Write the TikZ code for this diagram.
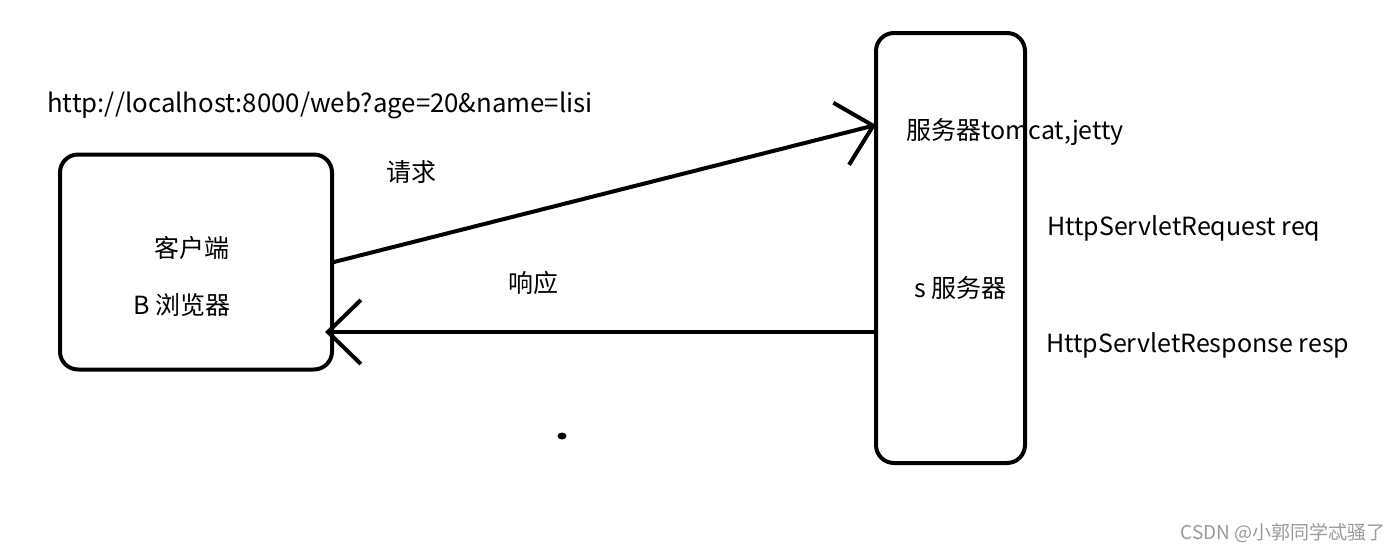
\documentclass[tikz,border=0pt]{standalone}
\usepackage{fontspec}
\setmainfont{Noto Sans CJK SC}
\usetikzlibrary{arrows.meta,positioning}
\definecolor{markgray}{HTML}{9A9A9A}
\begin{document}
\begin{tikzpicture}[x=1pt,y=-1pt,
  frame/.style={draw,line width=4pt,rounded corners=18pt,inner sep=0pt},
  lbl/.style={font=\fontsize{25}{30}\selectfont,inner sep=0pt},
  link/.style={line width=4pt,line cap=round,-{Straight Barb[length=33pt,width=64pt,line width=4pt]}}]
\useasboundingbox (0,0) rectangle (1398,552);
% the two boxes
\node[frame,minimum width=272pt,minimum height=215pt] (client) at (196,262) {};
\node[frame,minimum width=149pt,minimum height=430pt] (server) at (950.5,248) {};
\coordinate (reqy) at (0,125);
\coordinate (respy) at (0,332);
% request and response
\draw[link] (client.east) -- ([xshift=2pt]server.west |- reqy);
\draw[link] (server.west |- respy) -- ([xshift=-9pt]client.east |- respy);
% labels
\node[lbl,font=\fontsize{25.8}{30}\selectfont,anchor=west] (url) at (47,105) {http://localhost:8000/web?age=20\&name=lisi};
\node[lbl] (req) at (411,172) {请求};
\node[lbl] (resp) at (533,283) {响应};
\node[lbl] (cname) at (192,248) {客户端};
\node[lbl,anchor=west] (bname) at (133,305) {B 浏览器};
\node[lbl,anchor=west] (sname) at (906,132) {服务器tomcat,jetty};
\node[lbl,anchor=west] (smid) at (914,288) {s 服务器};
\node[lbl,anchor=west] (sreq) at (1047,228) {HttpServletRequest req};
\node[lbl,anchor=west] (sresp) at (1046,345) {HttpServletResponse resp};
\fill (562,436) ellipse [x radius=4.5pt,y radius=3.5pt];
\node[font=\fontsize{19}{23}\selectfont,text=markgray,anchor=east,inner sep=0pt] (mark) at (1386,533) {CSDN @小郭同学忒骚了};
\end{tikzpicture}
\end{document}
